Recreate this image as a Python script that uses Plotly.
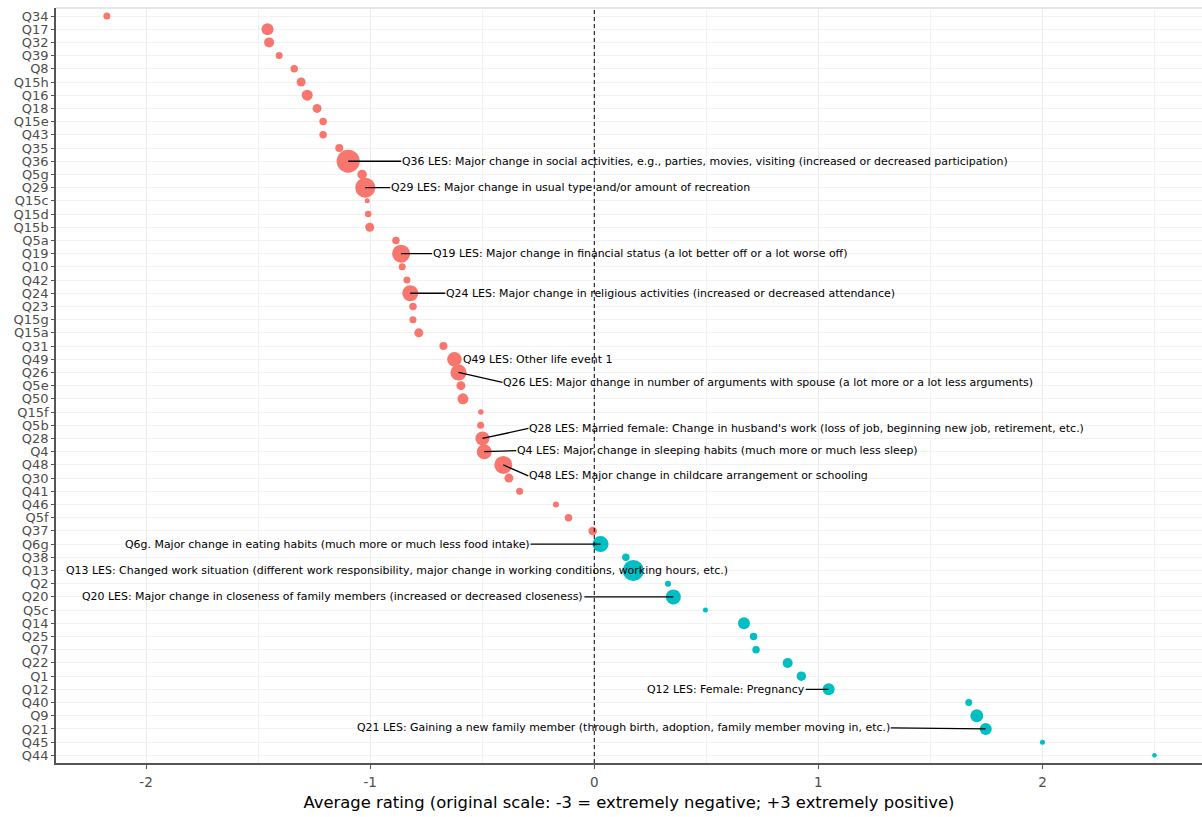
import plotly.graph_objects as go

# ---- data ----
questions = ["Q34", "Q17", "Q32", "Q39", "Q8", "Q15h", "Q16", "Q18", "Q15e", "Q43",
             "Q35", "Q36", "Q5g", "Q29", "Q15c", "Q15d", "Q15b", "Q5a", "Q19", "Q10",
             "Q42", "Q24", "Q23", "Q15g", "Q15a", "Q31", "Q49", "Q26", "Q5e", "Q50",
             "Q15f", "Q5b", "Q28", "Q4", "Q48", "Q30", "Q41", "Q46", "Q5f", "Q37",
             "Q6g", "Q38", "Q13", "Q2", "Q20", "Q5c", "Q14", "Q25", "Q7", "Q22",
             "Q1", "Q12", "Q40", "Q9", "Q21", "Q45", "Q44"]

avg_rating = [-2.175, -1.458, -1.451, -1.406, -1.339, -1.308, -1.281, -1.237, -1.21, -1.21,
              -1.138, -1.098, -1.036, -1.022, -1.013, -1.009, -1.002, -0.885, -0.862, -0.857,
              -0.836, -0.821, -0.809, -0.809, -0.783, -0.673, -0.624, -0.606, -0.595, -0.586,
              -0.506, -0.507, -0.499, -0.491, -0.406, -0.381, -0.333, -0.171, -0.115, -0.007,
              0.028, 0.141, 0.174, 0.329, 0.353, 0.496, 0.668, 0.711, 0.722, 0.863,
              0.924, 1.046, 1.671, 1.707, 1.747, 2.0, 2.5]

bubble_weight = [7, 12, 10, 7, 7.5, 9, 11, 9, 7.5, 7.5,
                 8, 23, 9.5, 20, 5, 6.5, 9, 7.5, 18, 7,
                 7, 16, 7.5, 7, 9, 8, 14.5, 16, 9, 11,
                 5.5, 7, 14, 15, 18, 9, 7, 6, 7.5, 8.5,
                 16, 7.5, 21, 6, 15, 5, 12, 7.5, 7.5, 10,
                 9.5, 12, 7, 13, 12, 5, 4.5]

x_tick_values = [-2, -1, 0, 1, 2]
x_tick_labels = ["-2", "-1", "0", "1", "2"]

label_questions = ["Q36", "Q29", "Q19", "Q24", "Q49", "Q26", "Q28", "Q4", "Q48",
                   "Q6g", "Q13", "Q20", "Q12", "Q21"]
label_texts = [
    "Q36 LES: Major change in social activities, e.g., parties, movies, visiting (increased or decreased participation)",
    "Q29 LES: Major change in usual type and/or amount of recreation",
    "Q19 LES: Major change in financial status (a lot better off or a lot worse off)",
    "Q24 LES: Major change in religious activities (increased or decreased attendance)",
    "Q49 LES: Other life event 1",
    "Q26 LES: Major change in number of arguments with spouse (a lot more or a lot less arguments)",
    "Q28 LES: Married female: Change in husband's work (loss of job, beginning new job, retirement, etc.)",
    "Q4 LES: Major change in sleeping habits (much more or much less sleep)",
    "Q48 LES: Major change in childcare arrangement or schooling",
    "Q6g. Major change in eating habits (much more or much less food intake)",
    "Q13 LES: Changed work situation (different work responsibility, major change in working conditions, working hours, etc.)",
    "Q20 LES: Major change in closeness of family members (increased or decreased closeness)",
    "Q12 LES: Female: Pregnancy",
    "Q21 LES: Gaining a new family member (through birth, adoption, family member moving in, etc.)",
]

# label placement styles (pixel offsets of the label from its point)
label_style = {
    "Q36": dict(ax=53, ay=0, anchor="left", arrow=True),
    "Q29": dict(ax=25, ay=0, anchor="left", arrow=True),
    "Q19": dict(ax=31, ay=0, anchor="left", arrow=True),
    "Q24": dict(ax=35, ay=0, anchor="left", arrow=True),
    "Q49": dict(ax=8, ay=0, anchor="left", arrow=False),
    "Q26": dict(ax=44, ay=10, anchor="left", arrow=True),
    "Q28": dict(ax=46, ay=-10, anchor="left", arrow=True),
    "Q4": dict(ax=32, ay=-1, anchor="left", arrow=True),
    "Q48": dict(ax=25, ay=11, anchor="left", arrow=True),
    "Q6g": dict(ax=-70, ay=0, anchor="right", arrow=True),
    "Q13": dict(ax=-236, ay=0, anchor="center", arrow=False),
    "Q20": dict(ax=-89, ay=0, anchor="right", arrow=True),
    "Q12": dict(ax=-23, ay=0, anchor="right", arrow=True),
    "Q21": dict(ax=-95, ay=-1, anchor="right", arrow=True),
}

NEG = "#F8766D"
POS = "#00BFC4"
colors = [NEG if v <= 0 else POS for v in avg_rating]

FONT = "DejaVu Sans, Liberation Sans, Arial, sans-serif"
ANN_SIZE = 10.95

fig = go.Figure()
fig.add_trace(go.Scatter(
    x=avg_rating, y=questions, mode="markers",
    marker=dict(size=bubble_weight, sizemode="diameter", color=colors,
                line=dict(width=0), opacity=1),
    hoverinfo="x+y", showlegend=False,
))

annotations = []
for q, txt in zip(label_questions, label_texts):
    st = label_style[q]
    i = questions.index(q)
    xv = avg_rating[i]
    if st["arrow"]:
        annotations.append(dict(
            x=xv, y=q, xref="x", yref="y", text=txt, showarrow=True,
            ax=st["ax"], ay=st["ay"], xanchor=st["anchor"], yanchor="middle",
            arrowhead=0, arrowwidth=1.3, arrowcolor="black", standoff=0,
            startstandoff=0, borderpad=0,
            font=dict(family=FONT, size=ANN_SIZE, color="black"),
        ))
    else:
        annotations.append(dict(
            x=xv, y=q, xref="x", yref="y", text=txt, showarrow=False,
            xshift=st["ax"], yshift=-st["ay"], xanchor=st["anchor"], yanchor="middle",
            borderpad=0,
            font=dict(family=FONT, size=ANN_SIZE, color="black"),
        ))

n = len(questions)
fig.update_layout(
    width=1202, height=817,
    margin=dict(l=56, r=0, t=8, b=54, autoexpand=False),
    paper_bgcolor="white", plot_bgcolor="white",
    font=dict(family=FONT),
    annotations=annotations,
    shapes=[
        dict(type="line", xref="x", yref="paper", x0=0, x1=0, y0=0, y1=1,
             line=dict(color="black", width=1, dash="4px,3px"), layer="above"),
        dict(type="line", xref="paper", yref="paper", x0=0, x1=1, y0=1, y1=1,
             line=dict(color="#D0D0D0", width=1), layer="below"),
    ],
    xaxis=dict(
        range=[-2.402, 2.712], tickmode="array", tickvals=x_tick_values, ticktext=x_tick_labels,
        zeroline=False, automargin=False,
        showgrid=True, gridcolor="#EBEBEB", gridwidth=1,
        minor=dict(tickmode="linear", tick0=0, dtick=0.5, showgrid=True,
                   gridcolor="#F2F2F2", gridwidth=1, ticks=""),
        showline=True, linecolor="#555555", linewidth=1.5,
        ticks="outside", ticklen=4, tickcolor="#555555", tickwidth=1,
        ticklabelstandoff=2,
        tickfont=dict(family=FONT, size=13.5, color="#4D4D4D"),
        title=dict(text="Average rating (original scale: -3 = extremely negative; +3 extremely positive)",
                   font=dict(family=FONT, size=16.4, color="black"), standoff=8),
    ),
    yaxis=dict(
        type="category", categoryorder="array", categoryarray=questions,
        tickmode="array", tickvals=questions, ticktext=questions,
        range=[n - 1 + 0.58, -0.606], automargin=False,
        showgrid=True, gridcolor="#F2F2F2", gridwidth=1, zeroline=False,
        showline=True, linecolor="#555555", linewidth=1.5,
        ticks="outside", ticklen=3, tickcolor="#555555", tickwidth=1,
        tickfont=dict(family=FONT, size=13, color="#4D4D4D"),
    ),
)

fig.write_html("out.html", config={"displayModeBar": False},
               post_script="document.body.style.margin='0';document.body.style.overflow='hidden';")
